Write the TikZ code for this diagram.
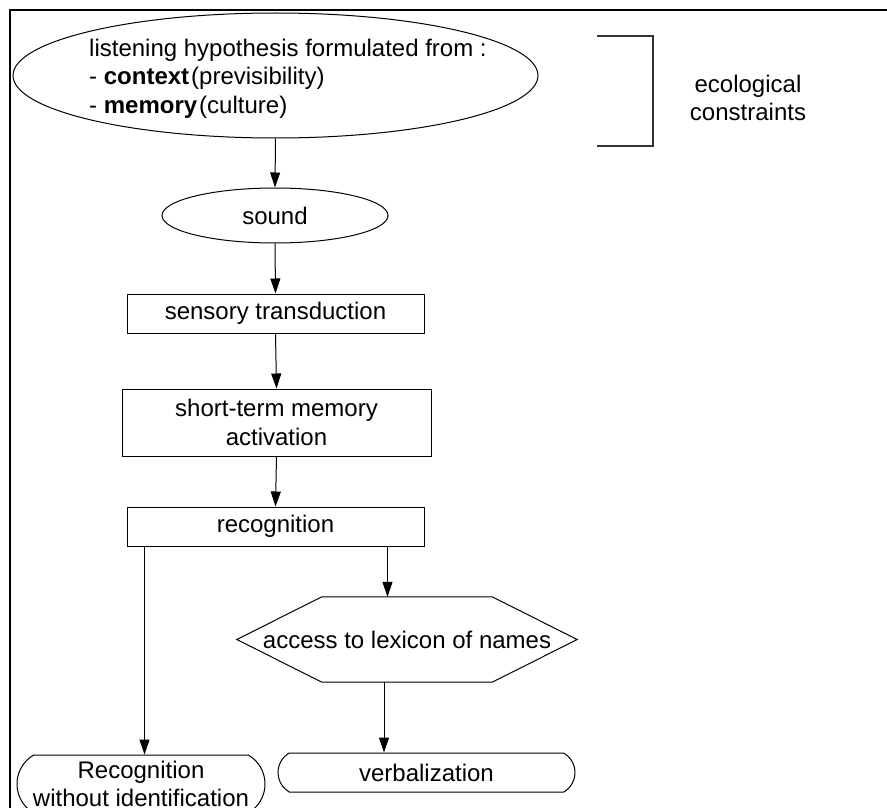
\documentclass[tikz,border=0pt]{standalone}
\usepackage{fontspec}
\setmainfont{Liberation Sans}
\usetikzlibrary{arrows.meta,shapes.geometric,shapes.misc,calc}

\begin{document}
\begin{tikzpicture}[x=1pt,y=-1pt,
    txt/.style={font=\fontsize{24}{28.5}\selectfont,inner sep=0pt},
    stepbox/.style={draw,line width=1pt,rectangle,txt,align=center},
    oval/.style={draw,line width=1pt,ellipse,txt},
    endbox/.style={draw,line width=1pt,rounded rectangle,rounded rectangle arc length=120,txt,align=center},
    arr/.style={line width=1pt,-{Triangle[length=15pt,width=10pt]}}]
    \useasboundingbox (0,0) rectangle (887,808);

    % Frame
    \draw[line width=2.5pt] (10,808) -- (10,10) -- (887,10);

    % Listening hypothesis
    \node[oval,minimum width=525pt,minimum height=125pt] (hypo) at (275.5,75.5) {};
    \node[txt,anchor=west,align=left] (hypotext) at (89,78.5) {listening hypothesis formulated from :\\- \textbf{context}\hspace{2pt}(previsibility)\\- \textbf{memory}\hspace{2pt}(culture)};

    % Ecological constraints bracket
    \draw[line width=1.2pt,black!80] (597,36) -- (653,36) -- (653,146) -- (597,146);
    \node[txt,align=center] (eco) at (748,98) {ecological\\constraints};

    % Processing chain
    \node[oval,minimum width=226pt,minimum height=55pt] (sound) at (275,215.5) {sound};
    \node[stepbox,minimum width=297pt,minimum height=39pt] (sensory) at (275.5,313.5) {sensory transduction};
    \node[stepbox,minimum width=309pt,minimum height=67pt] (stm) at (276.5,422.5) {short-term memory\\activation};
    \node[stepbox,minimum width=297pt,minimum height=39pt] (recog) at (275.5,526.5) {recognition};

    % Lexicon access (hexagon)
    \node[txt,minimum width=340pt,minimum height=85pt] (lexicon) at (407,639.5) {access to lexicon of names};
    \draw[line width=1pt] (lexicon.west) -- ([xshift=85pt]lexicon.north west) -- ([xshift=-85pt]lexicon.north east)
        -- (lexicon.east) -- ([xshift=-85pt]lexicon.south east) -- ([xshift=85pt]lexicon.south west) -- cycle;

    % Outcomes
    \node[endbox,minimum width=248pt,minimum height=58pt] (noident) at (141,784) {Recognition\\without identification};
    \node[endbox,minimum width=297pt,minimum height=39pt] (verbal) at (426.5,772.5) {verbalization};

    % Connectors
    \draw[arr] (hypo.south) -- (sound.north);
    \draw[arr] (sound.south) -- (sensory.north);
    \draw[arr] (sensory.south) -- (stm.north);
    \draw[arr] (stm.south) -- (recog.north);
    \coordinate (splitleft) at ([xshift=18pt]recog.south west);
    \coordinate (splitright) at ([xshift=-37pt]recog.south east);
    \draw[arr] (splitleft) -- (splitleft |- noident.north);
    \draw[arr] (splitright) -- (splitright |- lexicon.north);
    \coordinate (lexout) at ([xshift=-23pt]lexicon.south);
    \draw[arr] (lexout) -- (lexout |- verbal.north);

\end{tikzpicture}
\end{document}
